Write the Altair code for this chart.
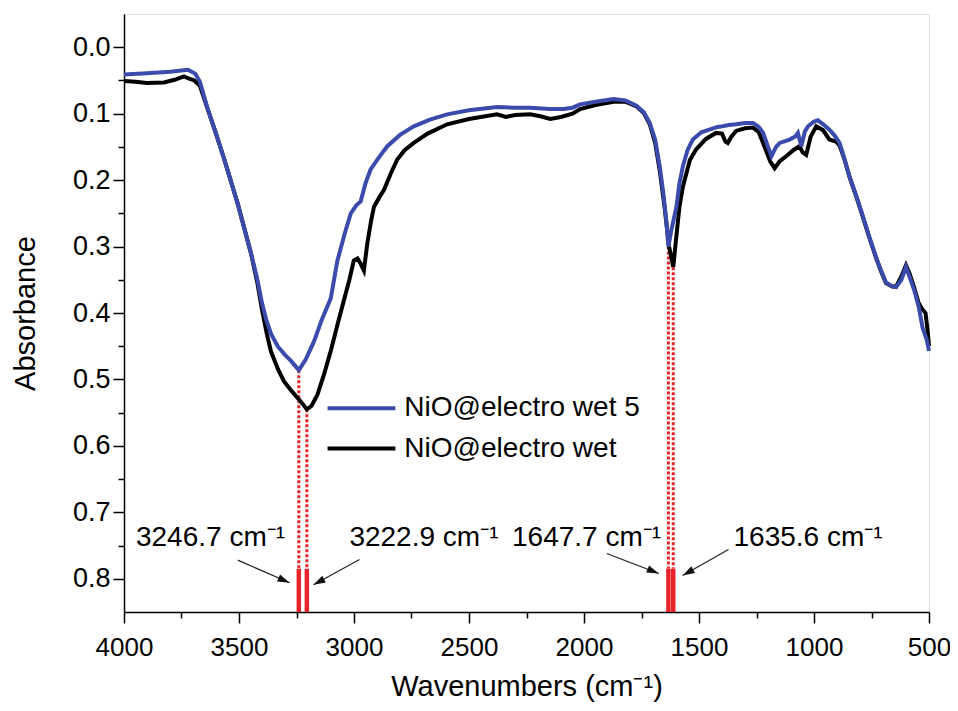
import altair as alt
import pandas as pd

# ---------------- data ----------------
wn_wet5 = [4000, 3900, 3800, 3722, 3690, 3670, 3636, 3600, 3563, 3506, 3448, 3420, 3400, 3380,
           3360, 3332, 3300, 3274, 3240, 3210, 3173, 3140, 3101, 3072, 3040, 3014, 2990, 2971,
           2950, 2928, 2890, 2855, 2800, 2740, 2670, 2595, 2500, 2378, 2300, 2234, 2150, 2089,
           2050, 2017, 1950, 1872, 1820, 1772, 1740, 1714, 1690, 1671, 1655, 1642, 1633, 1620,
           1598, 1585, 1570, 1550, 1527, 1490, 1455, 1420, 1398, 1370, 1339, 1300, 1265, 1240,
           1221, 1200, 1185, 1165, 1149, 1106, 1080, 1070, 1055, 1040, 1026, 1000, 983, 960, 933,
           910, 889, 870, 845, 815, 787, 760, 730, 710, 687, 660, 643, 620, 600, 585, 564, 545,
           528, 510, 500]
abs_wet5 = [0.041, 0.039, 0.037, 0.034, 0.040, 0.052, 0.093, 0.130, 0.170, 0.235, 0.310, 0.350,
            0.385, 0.412, 0.432, 0.450, 0.463, 0.472, 0.486, 0.470, 0.442, 0.410, 0.378, 0.321,
            0.280, 0.250, 0.238, 0.232, 0.205, 0.184, 0.165, 0.149, 0.132, 0.119, 0.109, 0.101,
            0.095, 0.090, 0.091, 0.091, 0.093, 0.093, 0.091, 0.086, 0.082, 0.078, 0.080, 0.088,
            0.098, 0.114, 0.140, 0.179, 0.220, 0.262, 0.300, 0.275, 0.240, 0.205, 0.179, 0.155,
            0.139, 0.128, 0.124, 0.120, 0.119, 0.117, 0.116, 0.114, 0.114, 0.120, 0.129, 0.150,
            0.164, 0.150, 0.144, 0.139, 0.134, 0.129, 0.149, 0.127, 0.119, 0.112, 0.110, 0.116,
            0.124, 0.133, 0.144, 0.165, 0.195, 0.225, 0.255, 0.285, 0.316, 0.335, 0.354, 0.360,
            0.361, 0.350, 0.331, 0.345, 0.366, 0.390, 0.422, 0.440, 0.457]

wn_wet = [4000, 3950, 3900, 3826, 3780, 3739, 3720, 3694, 3670, 3636, 3600, 3563, 3506, 3448,
          3420, 3400, 3380, 3361, 3330, 3304, 3270, 3245, 3220, 3205, 3185, 3159, 3130, 3101,
          3070, 3044, 3020, 3001, 2985, 2971, 2957, 2942, 2925, 2913, 2890, 2870, 2840, 2812,
          2780, 2740, 2680, 2595, 2500, 2378, 2340, 2300, 2234, 2190, 2147, 2100, 2050, 2017,
          1950, 1872, 1820, 1772, 1740, 1714, 1690, 1671, 1650, 1630, 1612, 1600, 1585, 1570,
          1540, 1513, 1470, 1426, 1400, 1385, 1375, 1360, 1339, 1300, 1265, 1240, 1215, 1190,
          1171, 1150, 1121, 1090, 1063, 1050, 1034, 1015, 990, 960, 933, 904, 889, 870, 845,
          815, 787, 760, 730, 710, 687, 660, 643, 620, 600, 585, 564, 545, 528, 515, 505, 500]
abs_wet = [0.051, 0.052, 0.054, 0.053, 0.049, 0.044, 0.047, 0.050, 0.058, 0.093, 0.130, 0.170,
           0.235, 0.310, 0.355, 0.395, 0.430, 0.458, 0.485, 0.503, 0.518, 0.528, 0.538, 0.545,
           0.540, 0.523, 0.492, 0.457, 0.415, 0.381, 0.350, 0.321, 0.318, 0.326, 0.336, 0.295,
           0.260, 0.240, 0.226, 0.215, 0.190, 0.169, 0.155, 0.144, 0.130, 0.116, 0.108, 0.101,
           0.105, 0.102, 0.101, 0.104, 0.108, 0.105, 0.100, 0.093, 0.087, 0.082, 0.082, 0.089,
           0.099, 0.116, 0.145, 0.185, 0.240, 0.300, 0.331, 0.290, 0.240, 0.210, 0.170, 0.154,
           0.138, 0.129, 0.130, 0.142, 0.144, 0.135, 0.126, 0.122, 0.121, 0.128, 0.150, 0.172,
           0.182, 0.172, 0.164, 0.155, 0.149, 0.158, 0.162, 0.135, 0.119, 0.125, 0.139, 0.142,
           0.148, 0.166, 0.196, 0.226, 0.256, 0.286, 0.317, 0.336, 0.355, 0.360, 0.360, 0.345,
           0.328, 0.340, 0.362, 0.385, 0.395, 0.400, 0.430, 0.450]

x_major = [4000, 3500, 3000, 2500, 2000, 1500, 1000, 500]
x_minor = [3750, 3250, 2750, 2250, 1750, 1250, 750]
y_major = [0.0, 0.1, 0.2, 0.3, 0.4, 0.5, 0.6, 0.7, 0.8]
y_minor = [0.05, 0.15, 0.25, 0.35, 0.45, 0.55, 0.65, 0.75]

# peak markers (red)
peak_wn = [3240, 3205, 1633, 1612]
peak_top = [0.486, 0.545, 0.300, 0.331]
bar_top = [0.785, 0.785, 0.785, 0.785]
bar_bottom = [0.85, 0.85, 0.85, 0.85]

# peak labels
label_text = ["3246.7 cm⁻¹", "3222.9 cm⁻¹", "1647.7 cm⁻¹", "1635.6 cm⁻¹"]
label_wn = [3948, 3020, 2313, 1350]
label_abs = [0.75, 0.75, 0.75, 0.75]

# arrows
arrow_wn0 = [3505, 2976, 1901, 1372]
arrow_a0 = [0.772, 0.771, 0.762, 0.756]
arrow_wn1 = [3280, 3176, 1675, 1571]
arrow_a1 = [0.806, 0.809, 0.792, 0.795]
arrow_angle = [113, 241.5, 112, 241]

# legend
legend_names = ["NiO@electro wet 5", "NiO@electro wet"]
legend_colors = ["#3b4bab", "#000000"]
legend_abs = [0.5435, 0.604]
legend_wn0 = [3115, 3115]
legend_wn1 = [2820, 2820]
legend_text_wn = [2781, 2781]

FONT = "Liberation Sans"
BLUE = "#3b4bab"
RED = "#e8242a"

# ---------------- frames ----------------
df_blue = pd.DataFrame({"wn": wn_wet5, "a": abs_wet5})
df_black = pd.DataFrame({"wn": wn_wet, "a": abs_wet})
df_peaks = pd.DataFrame({"wn": peak_wn, "top": peak_top, "bt": bar_top, "bb": bar_bottom})
df_labels = pd.DataFrame({"wn": label_wn, "a": label_abs, "t": label_text})
df_arrows = pd.DataFrame({"wn0": arrow_wn0, "a0": arrow_a0, "wn1": arrow_wn1, "a1": arrow_a1,
                          "ang": arrow_angle})
df_leg = pd.DataFrame({"name": legend_names, "col": legend_colors, "a": legend_abs,
                       "wn0": legend_wn0, "wn1": legend_wn1, "wt": legend_text_wn})
df_axis = pd.DataFrame({"wn": [2000], "a": [0.4]})

xs = alt.Scale(domain=[500, 4000], reverse=True, nice=False, zero=False)
ys = alt.Scale(domain=[-0.05, 0.85], reverse=True, nice=False, zero=False)

x_axis_major = alt.Axis(values=x_major, format="d", orient="bottom", labelFontSize=26,
                        labelFont=FONT, labelColor="black", labelFlush=False, labelOverlap=False,
                        labelPadding=11, tickSize=11, tickWidth=1.5, tickColor="black",
                        domainColor="black", domainWidth=1.5, grid=False,
                        title="Wavenumbers (cm⁻¹)", titleFont=FONT, titleFontSize=29,
                        titleFontWeight="normal", titleColor="black", titleY=83,
                        titleBaseline="alphabetic")
y_axis_major = alt.Axis(values=y_major, format=".1f", orient="left", labelFontSize=27,
                        labelFont=FONT, labelColor="black", labelFlush=False, labelOverlap=False,
                        labelPadding=3, tickSize=11, tickWidth=1.5, tickColor="black",
                        domainColor="black", domainWidth=1.5, grid=False,
                        title="Absorbance", titleFont=FONT, titleFontSize=29,
                        titleFontWeight="normal", titleColor="black", titleX=-99, titleY=299,
                        titleAngle=270, titleAlign="center", titleBaseline="middle")
x_axis_minor = alt.Axis(values=x_minor, orient="bottom", labels=False, domain=False,
                        tickSize=6, tickWidth=1.5, tickColor="black", grid=False)
y_axis_minor = alt.Axis(values=y_minor, orient="left", labels=False, domain=False,
                        tickSize=6, tickWidth=1.5, tickColor="black", grid=False)

axes_major = alt.Chart(df_axis).mark_point(opacity=0).encode(
    x=alt.X("wn:Q", scale=xs, axis=x_axis_major),
    y=alt.Y("a:Q", scale=ys, axis=y_axis_major),
)
axes_minor = alt.Chart(df_axis).mark_point(opacity=0).encode(
    x=alt.X("wn:Q", scale=xs, axis=x_axis_minor, title=None),
    y=alt.Y("a:Q", scale=ys, axis=y_axis_minor, title=None),
)

black_line = alt.Chart(df_black).mark_line(color="black", strokeWidth=4).encode(
    x=alt.X("wn:Q", scale=xs, axis=None), y=alt.Y("a:Q", scale=ys, axis=None),
    order=alt.Order("wn:Q", sort="descending"))
blue_line = alt.Chart(df_blue).mark_line(color=BLUE, strokeWidth=4).encode(
    x=alt.X("wn:Q", scale=xs, axis=None), y=alt.Y("a:Q", scale=ys, axis=None),
    order=alt.Order("wn:Q", sort="descending"))

dotted = alt.Chart(df_peaks).mark_rule(color=RED, strokeWidth=3, strokeDash=[3, 2]).encode(
    x=alt.X("wn:Q", scale=xs, axis=None), y=alt.Y("top:Q", scale=ys, axis=None), y2="bt:Q")
bars = alt.Chart(df_peaks).mark_rule(color=RED, strokeWidth=4.5).encode(
    x=alt.X("wn:Q", scale=xs, axis=None), y=alt.Y("bt:Q", scale=ys, axis=None), y2="bb:Q")

labels = alt.Chart(df_labels).mark_text(align="left", baseline="alphabetic", fontSize=28,
                                        font=FONT, color="black").encode(
    x=alt.X("wn:Q", scale=xs, axis=None), y=alt.Y("a:Q", scale=ys, axis=None), text="t:N")

arrow_lines = alt.Chart(df_arrows).mark_rule(color="#222222", strokeWidth=1.2).encode(
    x=alt.X("wn0:Q", scale=xs, axis=None), x2="wn1:Q",
    y=alt.Y("a0:Q", scale=ys, axis=None), y2="a1:Q")
arrow_heads = alt.Chart(df_arrows).mark_point(
    shape="M0,0 L0.32,1 L-0.32,1 Z", filled=True, color="#111111", size=576, opacity=1,
    strokeWidth=0).encode(
    x=alt.X("wn1:Q", scale=xs, axis=None), y=alt.Y("a1:Q", scale=ys, axis=None),
    angle=alt.Angle("ang:Q", scale=None))

leg_lines = alt.Chart(df_leg).mark_rule(strokeWidth=4).encode(
    x=alt.X("wn0:Q", scale=xs, axis=None), x2="wn1:Q",
    y=alt.Y("a:Q", scale=ys, axis=None),
    color=alt.Color("col:N", scale=None))
leg_text = alt.Chart(df_leg).mark_text(align="left", baseline="middle", fontSize=28,
                                       font=FONT, color="black").encode(
    x=alt.X("wt:Q", scale=xs, axis=None), y=alt.Y("a:Q", scale=ys, axis=None), text="name:N")

chart = alt.layer(
    axes_major, axes_minor, dotted, black_line, blue_line, bars, labels,
    arrow_lines, arrow_heads, leg_lines, leg_text
).resolve_axis(x="independent", y="independent").properties(
    width=805, height=598,
    autosize=alt.AutoSizeParams(type="none"),
    padding={"left": 116, "top": 6, "right": 21, "bottom": 90},
).configure_view(stroke="black", strokeWidth=1.5).configure(font=FONT)

chart.save("out.html", embed_options={"renderer": "svg", "actions": False})
